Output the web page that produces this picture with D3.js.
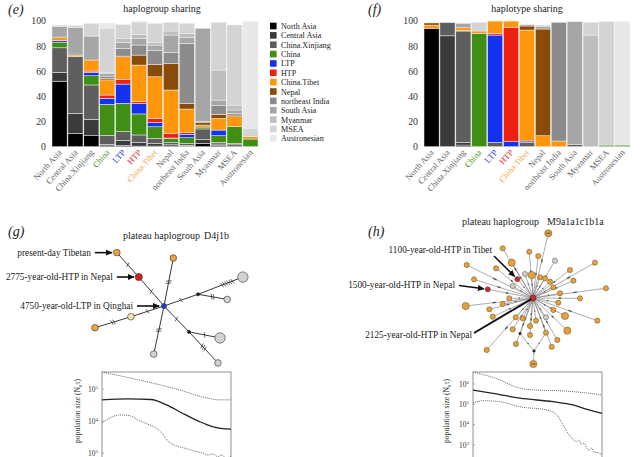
<!DOCTYPE html>
<html lang="en">
<head>
<meta charset="UTF-8">
<script src="https://cdnjs.cloudflare.com/ajax/libs/d3/7.8.5/d3.min.js"></script>
<style>
    body { margin: 0; background: #fff; }
    text { font-family: "Liberation Serif", "DejaVu Serif", serif; fill: #333; }
    .tag { font-size: 14px; font-style: italic; fill: #222; }
    .title { font-size: 10px; fill: #222; }
    .note { font-size: 9.3px; fill: #222; }
</style>
</head>
<body>
<svg id="fig" width="640" height="457"></svg>
<script>
// source groups, also the stacking order (bottom to top)
const groups = ["North Asia", "Central Asia", "China.Xinjiang", "China", "LTP", "HTP",
    "China.Tibet", "Nepal", "northeast India", "South Asia", "Myanmar", "MSEA", "Austronesian"];

// one row per population (x axis), one value per source group (%)
const haplogroupShares = [
    [52, 7, 19.5, 4.5, 1.2, 0.3, 2, 0.5, 0, 8.5, 0.5, 0.5, 0],
    [10.5, 16, 45, 0, 0, 0, 1, 1, 0, 21, 0, 1.5, 0],
    [8.7, 13, 27.3, 7.3, 2.7, 1, 8.8, 0, 0, 19, 0, 10, 0],
    [1.3, 0.5, 7.2, 24.6, 4.8, 2.6, 12, 1, 2, 2, 1, 35, 4],
    [1, 4, 7, 22.4, 15.3, 3.7, 18, 0.5, 6, 5, 3, 11, 0],
    [0.5, 3, 5.8, 16.7, 8.4, 1.3, 29.1, 7.9, 8, 5.3, 3, 10, 0.5],
    [0.5, 2, 4, 9.3, 3.4, 3.2, 33.1, 9.7, 11.4, 4, 2, 15, 0.5],
    [0.5, 1, 1.7, 3.4, 0.3, 3.7, 34.4, 21, 8.9, 13.7, 3.2, 6.9, 0],
    [0.3, 0.8, 1.5, 4.5, 2.7, 1.6, 18.5, 4.5, 47.6, 4.5, 3.5, 7.9, 0],
    [2.6, 3, 8.5, 1.5, 0, 0, 1.6, 1.8, 1, 74, 0, 0, 0],
    [0.8, 1.3, 1.3, 5.3, 4.5, 0, 9.3, 3.2, 6.8, 4.5, 23.8, 37.9, 0],
    [0.5, 1, 1.1, 13.3, 0, 0, 7.9, 1.3, 1.5, 2.5, 3.9, 63.6, 0],
    [0, 0, 0, 6.1, 0, 0, 1.8, 0, 0, 0, 0, 6.7, 84.6]
];

const haplotypeShares = [
    [94, 0, 0, 0, 0, 0, 2.5, 1.7, 0, 0, 0, 0, 0],
    [0, 88, 10.5, 0, 0, 0, 0, 0, 0, 0, 0, 0, 0],
    [1.3, 2.1, 88.4, 0.5, 0, 0, 2.1, 0, 0, 3.5, 0, 0, 0],
    [0, 0, 0, 90, 0, 0, 1.8, 0, 0, 0, 0, 6.9, 0],
    [0, 0, 3.4, 0, 85.2, 1.4, 9.7, 0, 0, 0, 0, 0, 0],
    [0, 0, 0, 0, 4, 90.4, 5.3, 0, 0, 0, 0, 0, 0],
    [0, 0, 3.4, 0, 1.1, 0, 88.1, 3.2, 0, 1, 0, 0, 0],
    [0, 0, 0, 0, 0, 0, 8.7, 84.7, 0, 2, 1, 0, 0],
    [0, 0, 0, 0, 0, 0, 4.5, 0, 94.2, 0, 0, 0, 0],
    [0, 0, 1.8, 0, 0, 0, 0, 0, 0, 97.4, 0, 0, 0],
    [0, 0, 0, 0, 0, 0, 0, 0, 0, 0, 88.6, 10.1, 0],
    [0, 0, 0, 1.3, 0, 0, 0, 0, 0, 0, 0, 97.9, 0],
    [0, 0, 0, 1.3, 0, 0, 0, 0, 0, 0, 0, 0, 97.9]
];

const shareTicks = [0, 20, 40, 60, 80, 100];

// network D4j1b: parent, angle (deg), branch length, kind, mutation ticks
const d4Nodes = [
    {id: "C", parent: null, angle: 0, len: 0, kind: "ltp", ticks: 0},
    {id: "R", parent: "C", angle: -131, len: 9.6, kind: "htp", ticks: 1},
    {id: "T", parent: "R", angle: -132, len: 8.2, kind: "tib", ticks: 1},
    {id: "O2", parent: "C", angle: -79, len: 12.2, kind: "tib", ticks: 2},
    {id: "J1", parent: "C", angle: -19, len: 9, kind: "mv", ticks: 1},
    {id: "G1", parent: "J1", angle: -21, len: 12, kind: "grayL", ticks: 6},
    {id: "G2", parent: "J1", angle: 10, len: 7.4, kind: "gray", ticks: 2},
    {id: "Y", parent: "C", angle: 162, len: 8.7, kind: "pale", ticks: 1},
    {id: "O3", parent: "Y", angle: 163, len: 9.4, kind: "tib", ticks: 2},
    {id: "G3", parent: "C", angle: 102, len: 12.3, kind: "gray", ticks: 2},
    {id: "J2", parent: "C", angle: 46, len: 9, kind: "mv", ticks: 1},
    {id: "G4", parent: "J2", angle: 11, len: 7.9, kind: "grayL", ticks: 1},
    {id: "G5", parent: "J2", angle: 47, len: 10.6, kind: "gray", ticks: 3}
];

// network M9a1a1c1b1a: star around the HTP node: angle (deg), branch length, kind, large
const m9Nodes = [
    [-76.7, 6.65, "o", 1], [-121.4, 5.82, "o", 0], [-94.6, 4.64, "o", 0], [-82.8, 4.23, "o", 0],
    [-121.1, 4.12, "o", 1], [-153.5, 7.41, "o", 0], [-141.2, 4.74, "o", 0], [-59.5, 4.33, "g", 0],
    [-37.1, 4.64, "o", 0], [-29.7, 7.13, "o", 0], [-162.4, 6.19, "o", 0], [-129.6, 2.46, "r", 0],
    [-108.4, 2.53, "g", 0], [-93.2, 2.3, "o", 1], [-71.3, 2.19, "o", 0], [-58.6, 2.31, "o", 0],
    [-43.8, 2.36, "o", 0], [-23.2, 4.39, "o", 0], [-7.6, 7.36, "o", 0], [-149.4, 2.36, "g", 0],
    [-169.1, 4.61, "r", 0], [-27.8, 2.29, "o", 0], [-9.9, 2.74, "o", 0], [179.3, 2.37, "o", 0],
    [173.2, 6.78, "o", 1], [168.8, 3.09, "o", 0], [10.5, 2.57, "o", 0], [0.4, 4.7, "o", 0],
    [165.5, 4.51, "o", 0], [30.6, 2.36, "o", 0], [155.1, 4.44, "o", 0], [29.4, 3.67, "o", 1],
    [131.9, 2.59, "o", 0], [116.9, 2.28, "o", 0], [56, 2.33, "g", 0], [19.4, 6.82, "o", 0],
    [82.5, 2.29, "o", 0], [96.1, 2.82, "o", 0], [122.9, 3.73, "o", 0], [43.6, 4.74, "o", 1],
    [69.5, 3.71, "o", 0], [94.6, 3.71, "o", 0], [59.9, 4.85, "o", 0], [69, 5.22, "o", 0],
    [110.3, 4.9, "o", 0], [131.7, 6.96, "o", 0]
];
// lower diamond: junction, meeting junction, bottom node
const m9Diamond = [[110.1, 3.78, "k", 0], [88.9, 5.3, "k", 0], [89.7, 6.6, "o", 1]];

// skyline plots: relative time (0-100) and effective population size
const d4TimeUpper = [0, 30, 55, 82, 90, 100];
const d4Upper = [339000, 186000, 107000, 52000, 46000, 45700];
const d4TimeMid = [0, 20, 38, 50, 62, 75, 85, 92, 100];
const d4Mid = [45700, 49000, 47000, 32000, 17800, 9800, 6800, 5900, 5600];
const d4TimeLower = [0, 6, 14, 22, 28, 35, 42, 47, 52, 58, 66, 72, 78, 82, 86, 90, 93, 96, 100];
const d4Lower = [8700, 12300, 15500, 14500, 10700, 8100, 6000, 3900, 2200, 1660, 1350, 1150,
    1000, 870, 930, 760, 870, 690, 810];

const m9TimeUpper = [0, 18, 36, 50, 70, 88, 100];
const m9Upper = [3890000, 1860000, 631000, 501000, 457000, 363000, 288000];
const m9TimeMid = [0, 15.5, 36.4, 62, 77.5, 88.4, 100];
const m9Mid = [501000, 347000, 200000, 135000, 93300, 56200, 36300];
const m9TimeLower = [0, 7.8, 20.9, 36.4, 57.4, 65.1, 69.8, 75.2, 80.6, 82, 84, 86, 88.4, 90, 92, 94, 97, 100];
const m9Lower = [120000, 151000, 135000, 75900, 52500, 29500, 9550, 2750, 1450, 1800, 1100, 1200,
    676, 560, 700, 450, 420, 316];

const color = d3.scaleOrdinal()
    .domain(groups)
    .range(["#000000", "#3b3b3b", "#5e5e5e", "#3f8f14", "#1232f0", "#f0200e", "#ff960c",
        "#8a4a08", "#8c8c8c", "#a6a6a6", "#bebebe", "#d4d4d4", "#e8e8e8"]);

const labelColor = d3.scaleOrdinal()
    .domain(["China", "LTP", "HTP", "China.Tibet"])
    .range(["#4a9a20", "#2233dd", "#e0301e", "#f2a84a"])
    .unknown("#666");

const svg = d3.select("#fig");

function drawShares(shares, x0, x1, title, titleX, tag, tagX) {
    const rows = shares.map((s, i) => {
        const r = {pop: groups[i]};
        groups.forEach((k, j) => r[k] = s[j]);
        return r;
    });
    const series = d3.stack().keys(groups)(rows);
    const x = d3.scaleBand().domain(groups).range([x0, x1]).paddingInner(0.05);
    const y = d3.scaleLinear().domain([0, 100]).range([146.7, 20.7]);
    const g = svg.append("g");

    g.selectAll("g.layer")
        .data(series)
        .enter()
        .append("g")
        .attr("class", "layer")
        .attr("fill", d => color(d.key))
        .selectAll("rect")
        .data(d => d.filter(p => p[1] - p[0] > 0))
        .enter()
        .append("rect")
        .attr("x", d => x(d.data.pop))
        .attr("width", x.bandwidth())
        .attr("y", d => y(d[1]))
        .attr("height", d => y(d[0]) - y(d[1]))
        .attr("stroke", "#eeeeee")
        .attr("stroke-width", 0.5);

    const ya = g.append("g")
        .attr("transform", `translate(${x0 - 2},0)`)
        .call(d3.axisLeft(y).tickValues(shareTicks).tickSize(0).tickPadding(4));
    ya.select(".domain").remove();
    ya.attr("font-family", null).attr("font-size", 9.8);

    const xa = g.append("g")
        .attr("transform", "translate(0,149)")
        .call(d3.axisBottom(x).tickSize(0));
    xa.select(".domain").remove();
    xa.attr("font-family", null).attr("font-size", 8.6);
    xa.selectAll("text")
        .attr("x", -1)
        .attr("y", 0)
        .attr("dy", "0.55em")
        .attr("transform", "rotate(-48)")
        .style("text-anchor", "end")
        .style("fill", d => labelColor(d));

    svg.append("text").attr("class", "title")
        .attr("x", titleX).attr("y", 12)
        .attr("text-anchor", "middle")
        .text(title);
    svg.append("text").attr("class", "tag")
        .attr("x", tagX).attr("y", 14)
        .text(tag);
}

drawShares(haplogroupShares, 52, 258, "haplogroup sharing", 162, "(e)", 8);
drawShares(haplotypeShares, 424, 630, "haplotype sharing", 527, "(f)", 368);

// legend for (e)
const legend = svg.append("g")
    .selectAll("g")
    .data(groups)
    .enter()
    .append("g")
    .attr("transform", (d, i) => `translate(270,${26 + i * 9.36})`);
legend.append("rect")
    .attr("x", 0).attr("y", -3.3)
    .attr("width", 6.6).attr("height", 6.6)
    .attr("fill", d => color(d));
legend.append("text")
    .attr("x", 11).attr("y", 3)
    .attr("font-size", 8.1)
    .style("fill", "#222")
    .text(d => d);

// arrow head for annotations
svg.append("defs").append("marker")
    .attr("id", "head")
    .attr("markerUnits", "userSpaceOnUse")
    .attr("markerWidth", 7).attr("markerHeight", 6)
    .attr("refX", 6).attr("refY", 3)
    .attr("orient", "auto")
    .append("path")
    .attr("d", "M0,0 L7,3 L0,6 Z")
    .attr("fill", "#111");

const nodeFill = {ltp: "#1c3ad6", htp: "#d41c1c", tib: "#e9a43a", pale: "#f6e4a6",
    gray: "#d2d2d2", grayL: "#d2d2d2", mv: "#111", o: "#e6a23a", g: "#cfcfcf", r: "#c42a3a", k: "#111"};

// ---- panel (g): D4j1b network ----
function drawD4() {
    const len = d3.scaleLinear().domain([0, 1]).range([0, 4]);
    const pos = {};
    d4Nodes.forEach(n => {
        if (!n.parent) {
            pos[n.id] = [164, 306];
        } else {
            const p = pos[n.parent];
            const a = n.angle * Math.PI / 180;
            pos[n.id] = [p[0] + len(n.len) * Math.cos(a), p[1] + len(n.len) * Math.sin(a)];
        }
    });
    const radius = k => ({ltp: 2.6, htp: 3.6, tib: 3.3, pale: 3.3, gray: 3.3, grayL: 5.2, mv: 1.6})[k];

    const g = svg.append("g");
    const links = d4Nodes.filter(n => n.parent);
    g.selectAll("line.edge")
        .data(links)
        .enter()
        .append("line")
        .attr("x1", d => pos[d.parent][0]).attr("y1", d => pos[d.parent][1])
        .attr("x2", d => pos[d.id][0]).attr("y2", d => pos[d.id][1])
        .attr("stroke", "#222").attr("stroke-width", 0.9);

    // mutation hatch marks
    links.forEach(d => {
        const [ax, ay] = pos[d.parent], [bx, by] = pos[d.id];
        const dx = bx - ax, dy = by - ay, L = Math.hypot(dx, dy);
        const ux = dx / L, uy = dy / L;
        const mid = d.ticks > 3 ? 0.65 : 0.5;
        for (let i = 0; i < d.ticks; i++) {
            const off = (i - (d.ticks - 1) / 2) * 2.2;
            const cx = ax + dx * mid + ux * off, cy = ay + dy * mid + uy * off;
            g.append("line")
                .attr("x1", cx - uy * 2.6 + ux * 0.8).attr("y1", cy + ux * 2.6 + uy * 0.8)
                .attr("x2", cx + uy * 2.6 - ux * 0.8).attr("y2", cy - ux * 2.6 - uy * 0.8)
                .attr("stroke", "#222").attr("stroke-width", 0.7);
        }
    });

    g.selectAll("circle")
        .data(d4Nodes)
        .enter()
        .append("circle")
        .attr("cx", d => pos[d.id][0]).attr("cy", d => pos[d.id][1])
        .attr("r", d => radius(d.kind))
        .attr("fill", d => nodeFill[d.kind])
        .attr("stroke", "#333").attr("stroke-width", 0.6);

    svg.append("text").attr("class", "tag").attr("x", 8).attr("y", 236).text("(g)");
    svg.append("text").attr("class", "title").attr("x", 123).attr("y", 239)
        .text("plateau haplogroup");
    svg.append("text").attr("class", "title").attr("x", 204).attr("y", 239).text("D4j1b");

    const notes = [
        {id: "T", text: "present-day Tibetan", gap: 17},
        {id: "R", text: "2775-year-old-HTP in Nepal", gap: 17},
        {id: "C", text: "4750-year-old-LTP in Qinghai", gap: 22}
    ];
    notes.forEach(n => {
        const [px, py] = pos[n.id];
        const end = px - 5;
        g.append("line")
            .attr("x1", end - n.gap).attr("y1", py)
            .attr("x2", end).attr("y2", py)
            .attr("stroke", "#111").attr("stroke-width", 1.6)
            .attr("marker-end", "url(#head)");
        g.append("text").attr("class", "note")
            .attr("x", end - n.gap - 4).attr("y", py + 3)
            .attr("text-anchor", "end")
            .text(n.text);
    });
}
drawD4();

// ---- panel (h): M9a1a1c1b1a network ----
function drawM9() {
    const cx = 533, cy = 298;
    const len = d3.scaleLinear().domain([0, 1]).range([0, 10]);
    const place = d => {
        const a = d[0] * Math.PI / 180;
        return [cx + len(d[1]) * Math.cos(a), cy + len(d[1]) * Math.sin(a)];
    };
    const pts = m9Nodes.map(place);
    const dia = m9Diamond.map(place);
    const g = svg.append("g");

    const segs = pts.map(p => [[cx, cy], p]);
    segs.push([[cx, cy], dia[0]], [dia[0], dia[1]], [pts[40], dia[1]], [dia[1], dia[2]]);

    g.selectAll("line.edge")
        .data(segs)
        .enter()
        .append("line")
        .attr("x1", d => d[0][0]).attr("y1", d => d[0][1])
        .attr("x2", d => d[1][0]).attr("y2", d => d[1][1])
        .attr("stroke", "#8a8a8a").attr("stroke-width", 0.7);

    // small direction marks on each branch
    g.selectAll("line.mark")
        .data(segs.filter(d => Math.hypot(d[1][0] - d[0][0], d[1][1] - d[0][1]) > 18))
        .enter()
        .append("line")
        .attr("x1", d => d[0][0] + (d[1][0] - d[0][0]) * 0.55)
        .attr("y1", d => d[0][1] + (d[1][1] - d[0][1]) * 0.55)
        .attr("x2", d => d[0][0] + (d[1][0] - d[0][0]) * 0.6)
        .attr("y2", d => d[0][1] + (d[1][1] - d[0][1]) * 0.6)
        .attr("stroke", "#555").attr("stroke-width", 1.4);

    const all = m9Nodes.concat(m9Diamond);
    const allPts = pts.concat(dia);
    g.selectAll("circle")
        .data(all)
        .enter()
        .append("circle")
        .attr("cx", (d, i) => allPts[i][0]).attr("cy", (d, i) => allPts[i][1])
        .attr("r", d => d[2] === "k" ? 1.3 : (d[3] ? 3.6 : 2.6))
        .attr("fill", d => nodeFill[d[2]])
        .attr("stroke", "#5a4a30").attr("stroke-width", 0.5);

    // symbol in the two large end nodes
    [pts[0], dia[2]].forEach(p => {
        g.append("line")
            .attr("x1", p[0] - 2).attr("y1", p[1])
            .attr("x2", p[0] + 2).attr("y2", p[1])
            .attr("stroke", "#333").attr("stroke-width", 0.8);
    });

    g.append("circle")
        .attr("cx", cx).attr("cy", cy).attr("r", 3)
        .attr("fill", "#c42a3a").attr("stroke", "#5a2020").attr("stroke-width", 0.5);

    svg.append("text").attr("class", "tag").attr("x", 368).attr("y", 236).text("(h)");
    svg.append("text").attr("class", "title").attr("x", 462).attr("y", 225)
        .text("plateau haplogroup");
    svg.append("text").attr("class", "title").attr("x", 547).attr("y", 225).text("M9a1a1c1b1a");

    const notes = [
        {p: pts[11], from: [494, 256], text: "1100-year-old-HTP in Tibet", tx: 492, ty: 253, w: 1.6, head: true},
        {p: pts[20], from: [459, 285.5], text: "1500-year-old-HTP in Nepal", tx: 455, ty: 288, w: 1.6, head: true},
        {p: [cx, cy], from: [474, 333], text: "2125-year-old-HTP in Nepal", tx: 472, ty: 338, w: 2, head: false}
    ];
    notes.forEach(n => {
        const dx = n.p[0] - n.from[0], dy = n.p[1] - n.from[1], L = Math.hypot(dx, dy);
        const back = n.head ? 4 : 2;
        g.append("line")
            .attr("x1", n.from[0]).attr("y1", n.from[1])
            .attr("x2", n.p[0] - dx / L * back).attr("y2", n.p[1] - dy / L * back)
            .attr("stroke", "#111").attr("stroke-width", n.w)
            .attr("marker-end", n.head ? "url(#head)" : null);
        g.append("text").attr("class", "note")
            .attr("x", n.tx).attr("y", n.ty)
            .attr("text-anchor", "end")
            .text(n.text);
    });
}
drawM9();

// ---- skyline plots under the networks ----
function drawSkyline(x0, x1, yDomain, yRange, tickExps, curves, labelX) {
    const x = d3.scaleLinear().domain([0, 100]).range([x0, x1]);
    const y = d3.scaleLog().domain(yDomain).range(yRange);
    const g = svg.append("g");

    g.append("rect")
        .attr("x", x0).attr("y", 372)
        .attr("width", x1 - x0).attr("height", 110)
        .attr("fill", "none").attr("stroke", "#777").attr("stroke-width", 0.8);

    const line = d3.line().curve(d3.curveMonotoneX);
    curves.forEach(c => {
        g.append("path")
            .attr("d", line(c.t.map((t, i) => [x(t), y(c.v[i])])))
            .attr("fill", "none")
            .attr("stroke", c.dash ? "#666" : "#222")
            .attr("stroke-width", c.dash ? 1 : 1.3)
            .attr("stroke-dasharray", c.dash ? "1,1" : null);
    });

    tickExps.forEach(e => {
        g.append("line")
            .attr("x1", x0).attr("x2", x0 + 2)
            .attr("y1", y(Math.pow(10, e))).attr("y2", y(Math.pow(10, e)))
            .attr("stroke", "#777").attr("stroke-width", 0.6);
        const t = g.append("text")
            .attr("x", x0 - 4).attr("y", y(Math.pow(10, e)) + 2.5)
            .attr("text-anchor", "end")
            .attr("font-size", 7.4);
        t.append("tspan").text("10");
        t.append("tspan").attr("dy", -3).attr("font-size", 5).text(e);
    });

    const lab = g.append("text")
        .attr("transform", `translate(${labelX},411) rotate(-90)`)
        .attr("text-anchor", "middle")
        .attr("font-size", 7.6);
    lab.append("tspan").text("population size (N");
    lab.append("tspan").attr("font-size", 5.2).attr("dy", 1.8).text("e");
    lab.append("tspan").attr("dy", -1.8).text("τ)");
}

drawSkyline(102, 231, [1e3, 1e5], [453, 389], [3, 4, 5], [
    {t: d4TimeUpper, v: d4Upper, dash: true},
    {t: d4TimeMid, v: d4Mid, dash: false},
    {t: d4TimeLower, v: d4Lower, dash: true}
], 80);

drawSkyline(473, 602, [1e3, 1e6], [445, 384], [3, 4, 5, 6], [
    {t: m9TimeUpper, v: m9Upper, dash: true},
    {t: m9TimeMid, v: m9Mid, dash: false},
    {t: m9TimeLower, v: m9Lower, dash: true}
], 449);
</script>
</body>
</html>
